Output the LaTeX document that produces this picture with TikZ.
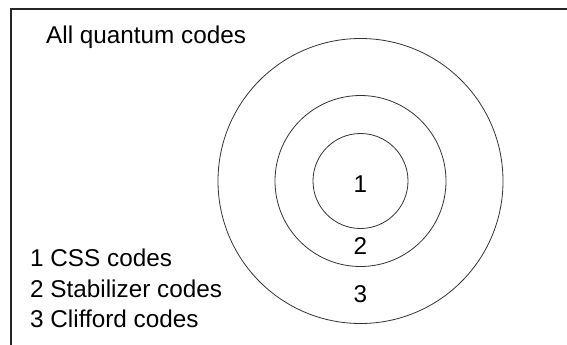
\documentclass[tikz,border=0pt]{standalone}
\usepackage{fontspec}
\setmainfont{Liberation Sans}
\begin{document}
\begin{tikzpicture}[x=1pt,y=-1pt,
  ring/.style={circle,draw=black!80,line width=0.8pt,inner sep=0pt},
  lbl/.style={inner sep=0pt,font=\fontsize{24.3}{28}\selectfont},
  legend/.style={lbl,anchor=base west}]
\useasboundingbox (0,0) rectangle (567,345);
\coordinate (fb) at (11,345);
\coordinate (fc) at (11,9);
\coordinate (fr) at (567,9);
\draw[line width=1.2pt,black!85] (fb) -- (fc) -- (fr);
\node[ring,minimum size=285pt] (outer) at (360.5,181) {};
\node[ring,minimum size=171pt] (middle) at (360.5,181) {};
\node[ring,minimum size=95pt] (inner) at (360.5,181) {};
\node[lbl,anchor=base] (n1) at (360.5,192) {1};
\node[lbl,anchor=base] (n2) at (360.5,254) {2};
\node[lbl,anchor=base] (n3) at (360.5,302) {3};
\node[legend] (title) at (46,44) {All quantum codes};
\node[legend] (l1) at (30,266) {1 CSS codes};
\node[legend] (l2) at (30,297) {2 Stabilizer codes};
\node[legend] (l3) at (30,327) {3 Clifford codes};
\end{tikzpicture}
\end{document}
